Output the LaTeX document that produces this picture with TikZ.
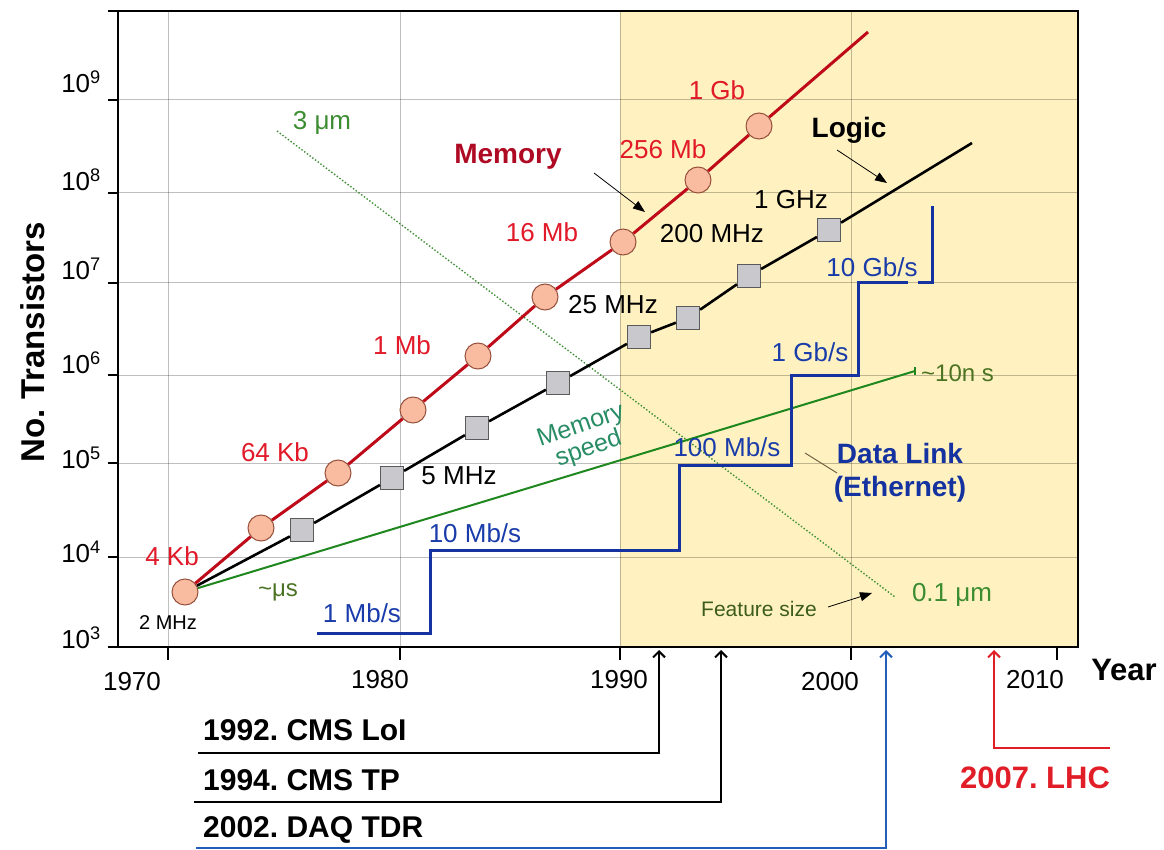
\documentclass[tikz,border=0pt]{standalone}
\usepackage{fontspec}
\setmainfont{Liberation Sans}
\usetikzlibrary{arrows.meta}
\frenchspacing
\definecolor{bgyellow}{RGB}{255,242,192}
\definecolor{memline}{RGB}{190,10,25}
\definecolor{memtext}{RGB}{225,25,40}
\definecolor{memtitle}{RGB}{175,10,35}
\definecolor{circfill}{RGB}{250,188,160}
\definecolor{circdraw}{RGB}{150,80,60}
\definecolor{sqfill}{RGB}{200,200,205}
\definecolor{sqdraw}{RGB}{90,90,90}
\definecolor{linkblue}{RGB}{20,50,160}
\definecolor{linktext}{RGB}{25,60,170}
\definecolor{speedgreen}{RGB}{30,135,30}
\definecolor{featgreen}{RGB}{60,140,50}
\definecolor{olive}{RGB}{75,115,35}
\definecolor{teal}{RGB}{40,140,100}
\definecolor{daqblue}{RGB}{35,95,185}
\definecolor{lhcred}{RGB}{225,30,40}
\definecolor{dlconn}{RGB}{120,100,70}
\tikzset{
  lbl/.style={inner sep=0pt, font=\fontsize{26}{30}\selectfont},
  memlbl/.style={lbl, text=memtext},
  logiclbl/.style={lbl, text=black},
  linklbl/.style={lbl, text=linktext},
  bigbold/.style={inner sep=0pt, font=\fontsize{28}{33}\bfseries\selectfont},
  axlbl/.style={inner sep=0pt, font=\fontsize{26}{30}\selectfont},
  milestone/.style={inner sep=0pt, anchor=west, font=\fontsize{30}{34}\bfseries\selectfont},
  memdot/.style={circle, minimum size=26pt, inner sep=0pt, fill=circfill, draw=circdraw, line width=1pt},
  logicsq/.style={rectangle, minimum size=23pt, inner sep=0pt, fill=sqfill, draw=sqdraw, line width=1.2pt},
  gridline/.style={black, opacity=0.25, line width=1pt},
  chevron/.style={-{Straight Barb[length=6pt,width=12pt,line width=2pt]}, line width=2pt},
  pointer/.style={-{Triangle[length=12pt,width=9pt]}, line width=0.8pt, black}
}
\begin{document}
\begin{tikzpicture}[x=1pt,y=-1pt]
\useasboundingbox (0,0) rectangle (1164,850);
% background shading
\fill[bgyellow] (620,11) rectangle (1078,647);
% grid
\foreach \yy in {100,193,283,375,463,557} \draw[gridline] (118,\yy) -- (1078,\yy);
\foreach \xx in {168,400,620,851} \draw[gridline] (\xx,11) -- (\xx,647);
% ticks
\foreach \yy in {11,100,193,283,375,463,557,647} \draw[line width=1.2pt] (108,\yy) -- (118,\yy);
\foreach \xx in {168,400,620,851,1057} \draw[line width=1.2pt] (\xx,647) -- (\xx,660);
% frame
\draw[line width=2pt] (118,11) rectangle (1078,647);
% y labels
\node[axlbl, anchor=east] (y9) at (101,82) {10\textsuperscript{9}};
\node[axlbl, anchor=east] (y8) at (101,180) {10\textsuperscript{8}};
\node[axlbl, anchor=east] (y7) at (101,269) {10\textsuperscript{7}};
\node[axlbl, anchor=east] (y6) at (101,363) {10\textsuperscript{6}};
\node[axlbl, anchor=east] (y5) at (101,458) {10\textsuperscript{5}};
\node[axlbl, anchor=east] (y4) at (101,552) {10\textsuperscript{4}};
\node[axlbl, anchor=east] (y3) at (101,638) {10\textsuperscript{3}};
% x labels
\node[axlbl] (x1970) at (132,682) {1970};
\node[axlbl] (x1980) at (380,680) {1980};
\node[axlbl] (x1990) at (619,680) {1990};
\node[axlbl] (x2000) at (830,682) {2000};
\node[axlbl] (x2010) at (1035,680) {2010};
\node[inner sep=0pt, font=\fontsize{31}{35}\bfseries\selectfont] (year) at (1124,670) {Year};
\node[inner sep=0pt, rotate=90, font=\fontsize{33}{38}\bfseries\selectfont] (ytitle) at (33,342) {No. Transistors};
% feature size (dotted)
\coordinate (f1) at (277,131);
\coordinate (f2) at (895,597);
\draw[featgreen, dotted, line width=1.4pt] (f1) -- (f2);
% memory speed
\coordinate (ms2) at (915,371);
% memory nodes
\node[memdot] (m1) at (185,592) {};
\node[memdot] (m2) at (261,528) {};
\node[memdot] (m3) at (338,473) {};
\node[memdot] (m4) at (413,410) {};
\node[memdot] (m5) at (478,356) {};
\node[memdot] (m6) at (545,297) {};
\node[memdot] (m7) at (623,242) {};
\node[memdot] (m8) at (698,180) {};
\node[memdot] (m9) at (759,126) {};
\coordinate (mend) at (868,32);
% logic nodes
\node[logicsq] (s1) at (302,530) {};
\node[logicsq] (s2) at (392,478) {};
\node[logicsq] (s3) at (477,428) {};
\node[logicsq] (s4) at (558,383) {};
\node[logicsq] (s5) at (639,337) {};
\node[logicsq] (s6) at (688,318) {};
\node[logicsq] (s7) at (749,276) {};
\node[logicsq] (s8) at (829,230) {};
\coordinate (send) at (972,143);
% lines
\draw[speedgreen, line width=2pt] (m1) -- (ms2);
\draw[speedgreen, line width=1.5pt] ([yshift=-4pt]ms2) -- ([yshift=4pt]ms2);
\draw[black, line width=2.6pt] (m1) -- (s1) -- (s2) -- (s3) -- (s4) -- (s5) -- (s6) -- (s7) -- (s8) -- (send);
\draw[memline, line width=3pt] (m1) -- (m2) -- (m3) -- (m4) -- (m5) -- (m6) -- (m7) -- (m8) -- (m9) -- (mend);
% data link steps
\coordinate (d0) at (317,633);
\coordinate (d1) at (430,633);
\coordinate (d2) at (430,550);
\coordinate (d3) at (679,550);
\coordinate (d4) at (679,465);
\coordinate (d5) at (791,465);
\coordinate (d6) at (791,375);
\coordinate (d7) at (858,375);
\coordinate (d8) at (858,283);
\coordinate (d9) at (908,283);
\coordinate (d10) at (918,283);
\coordinate (d11) at (932,283);
\coordinate (d12) at (932,206);
\draw[linkblue, line width=3pt] (d0) -- (d1) -- (d2) -- (d3) -- (d4) -- (d5) -- (d6) -- (d7) -- (d8) -- (d9);
\draw[linkblue, line width=3pt] (d10) -- (d11) -- (d12);
% memory labels
\node[memlbl] (l4k) at (172,556) {4 Kb};
\node[memlbl] (l64k) at (275,452) {64 Kb};
\node[memlbl] (l1m) at (402,345) {1 Mb};
\node[memlbl] (l16m) at (542,232) {16 Mb};
\node[memlbl] (l256m) at (663,149) {256 Mb};
\node[memlbl] (l1g) at (717,90) {1 Gb};
\node[bigbold, text=memtitle] (memory) at (508,157) {Memory};
\node[bigbold] (logic) at (849,130) {Logic};
\coordinate (mema) at (594,173);
\coordinate (memb) at (645,212);
\draw[pointer] (mema) -- (memb);
\coordinate (loga) at (837,150);
\coordinate (logb) at (887,183);
\draw[pointer] (loga) -- (logb);
% logic labels
\node[inner sep=0pt, font=\fontsize{20}{24}\selectfont] (l2mhz) at (168,623) {2 MHz};
\node[logiclbl] (l5mhz) at (459,476) {5 MHz};
\node[logiclbl] (l25mhz) at (613,305) {25 MHz};
\node[logiclbl] (l200mhz) at (712,234) {200 MHz};
\node[logiclbl] (l1ghz) at (791,200) {1 GHz};
% link labels
\node[linklbl] (l1mbs) at (362,613) {1 Mb/s};
\node[linklbl] (l10mbs) at (475,533) {10 Mb/s};
\node[linklbl] (l100mbs) at (727,447) {100 Mb/s};
\node[linklbl] (l1gbs) at (810,352) {1 Gb/s};
\node[linklbl] (l10gbs) at (872,267) {10 Gb/s};
\node[inner sep=0pt, text=linkblue, align=center, font=\fontsize{28}{33}\bfseries\selectfont] (datalink) at (900,473) {Data Link\\(Ethernet)};
\coordinate (dla) at (805,453);
\coordinate (dlb) at (837,473);
\draw[dlconn, line width=1pt] (dla) -- (dlb);
% green labels
\node[lbl, text=featgreen] (l3um) at (322,123) {3 μm};
\node[lbl, text=featgreen] (l01um) at (952,595) {0.1 μm};
\node[inner sep=0pt, text=olive!80!black, font=\fontsize{21}{25}\selectfont] (featsize) at (759,609) {Feature size};
\coordinate (fsa) at (828,607);
\coordinate (fsb) at (872,593);
\draw[pointer] (fsa) -- (fsb);
\node[inner sep=0pt, text=olive, font=\fontsize{24}{28}\selectfont] (lus) at (278,592) {\textasciitilde μs};
\node[inner sep=0pt, text=olive, anchor=west, font=\fontsize{24}{28}\selectfont] (l10ns) at (921,373) {\textasciitilde 10n s};
\node[inner sep=0pt, text=teal, rotate=19, align=center, font=\fontsize{25}{22}\selectfont] (memspeed) at (585,438) {Memory\\speed};
% milestones
\node[milestone] (loi) at (203,730) {1992. CMS LoI};
\node[milestone] (tp) at (203,780) {1994. CMS TP};
\node[milestone] (tdr) at (203,830) {2002. DAQ TDR};
\node[inner sep=0pt, text=lhcred, font=\fontsize{31}{35}\bfseries\selectfont] (lhc) at (1035,778) {2007. LHC};
\coordinate (a1s) at (198,753);
\coordinate (a1c) at (659,753);
\coordinate (a1e) at (659,650);
\draw[chevron, black] (a1s) -- (a1c) -- (a1e);
\coordinate (a2s) at (194,802);
\coordinate (a2c) at (721,802);
\coordinate (a2e) at (721,650);
\draw[chevron, black] (a2s) -- (a2c) -- (a2e);
\coordinate (a3s) at (196,848);
\coordinate (a3c) at (886,848);
\coordinate (a3e) at (886,650);
\draw[chevron, daqblue] (a3s) -- (a3c) -- (a3e);
\coordinate (a4s) at (1110,748);
\coordinate (a4c) at (994,748);
\coordinate (a4e) at (994,650);
\draw[chevron, lhcred] (a4s) -- (a4c) -- (a4e);
\end{tikzpicture}
\end{document}
